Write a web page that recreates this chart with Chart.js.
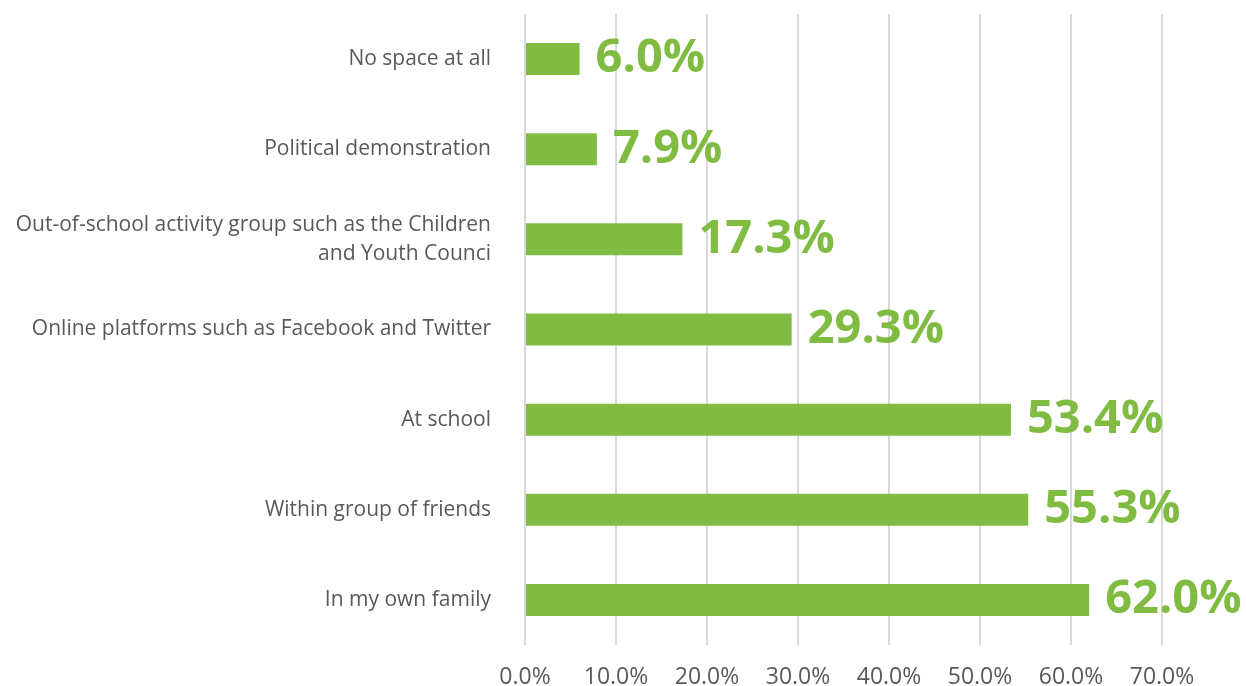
<!DOCTYPE html>
<html lang="en">
<head>
<meta charset="UTF-8">
<title>Spaces</title>
<script src="https://cdn.jsdelivr.net/npm/chart.js@4.4.0/dist/chart.umd.min.js"></script>
<style>
  html, body { margin: 0; padding: 0; background: #fff; }
  #wrap { width: 1246px; height: 686px; }
</style>
</head>
<body>
<div id="wrap"><canvas id="spaceChart"></canvas></div>
<script>
// categories, top to bottom
const categories = [
  "No space at all",
  "Political demonstration",
  ["Out-of-school activity group such as the Children", "and Youth Counci"],
  "Online platforms such as Facebook and Twitter",
  "At school",
  "Within group of friends",
  "In my own family"
];
const shares = [6.0, 7.9, 17.3, 29.3, 53.4, 55.3, 62.0];
const tickValues = [0, 10, 20, 30, 40, 50, 60, 70];

const green = "#80bc41";
const grey = "#595959";

// value labels at the end of each bar
const barLabels = {
  id: "barLabels",
  afterDatasetsDraw(chart) {
    const ctx = chart.ctx;
    const meta = chart.getDatasetMeta(0);
    ctx.save();
    ctx.font = "bold 47px 'Open Sans'";
    ctx.fillStyle = green;
    ctx.textAlign = "left";
    ctx.textBaseline = "middle";
    meta.data.forEach((bar, i) => {
      ctx.fillText(shares[i].toFixed(1) + "%", bar.x + 16, bar.y);
    });
    ctx.restore();
  }
};

new Chart(document.getElementById("spaceChart"), {
  type: "bar",
  data: {
    labels: categories,
    datasets: [{
      data: shares,
      backgroundColor: green,
      borderWidth: 0,
      barPercentage: 0.355,
      categoryPercentage: 1
    }]
  },
  plugins: [barLabels],
  options: {
    indexAxis: "y",
    responsive: true,
    maintainAspectRatio: false,
    animation: false,
    layout: { padding: { top: 14, right: 84, bottom: 0, left: 0 } },
    plugins: { legend: { display: false }, tooltip: { enabled: false } },
    scales: {
      x: {
        min: 0,
        max: 70,
        afterBuildTicks(scale) {
          scale.ticks = tickValues.map(v => ({ value: v }));
        },
        afterFit(scale) { scale.height = 41; },
        grid: { color: "#d9d9d9", lineWidth: 2, drawTicks: false },
        border: { display: false },
        ticks: {
          color: grey,
          padding: 19,
          font: { family: "'Open Sans'", size: 23 },
          callback: v => v.toFixed(1) + "%"
        }
      },
      y: {
        afterFit(scale) {
          scale.width = 525;
          scale.paddingTop = 0;
          scale.paddingBottom = 0;
        },
        grid: { display: false, drawTicks: false },
        border: { display: false },
        ticks: {
          color: grey,
          padding: 34,
          font: { family: "'Open Sans'", size: 21, lineHeight: 1.35 }
        }
      }
    }
  }
});
</script>
</body>
</html>
